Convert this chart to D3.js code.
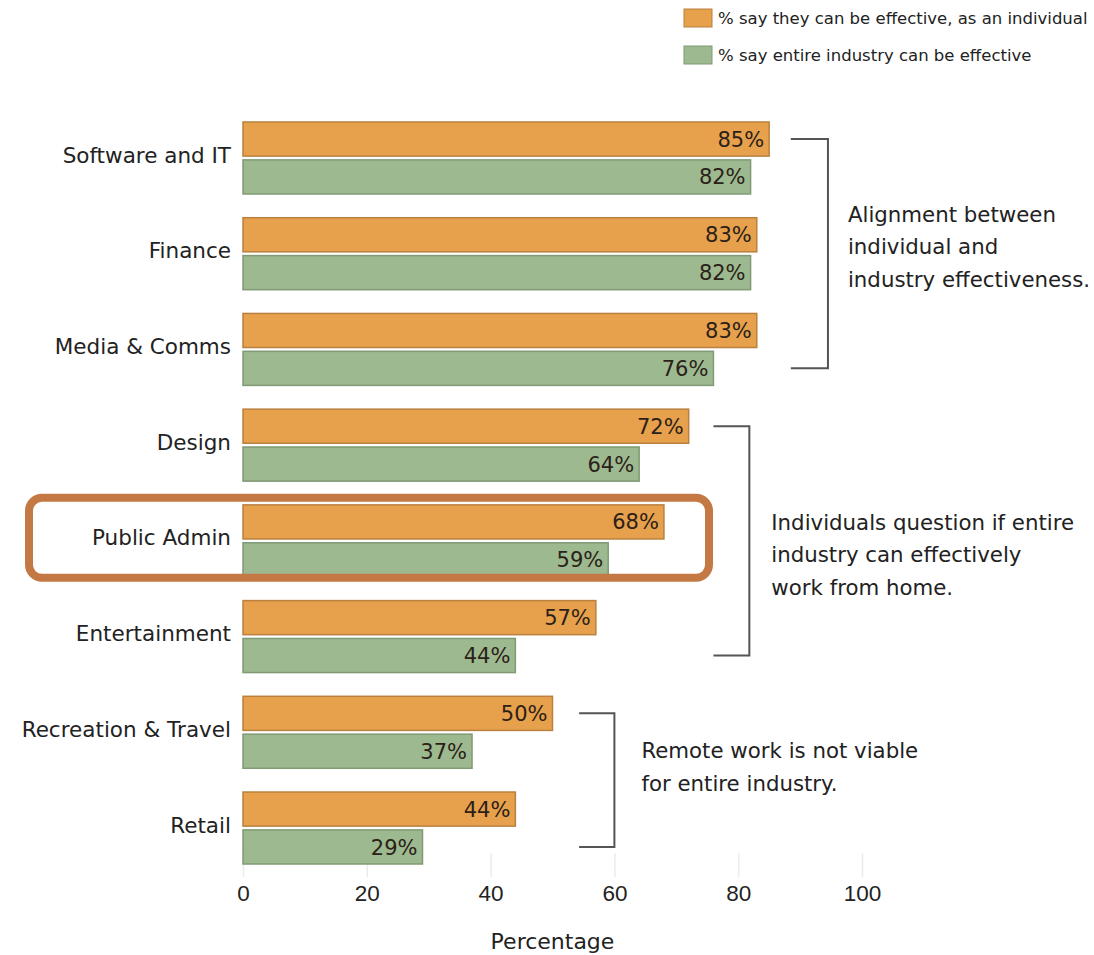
<!DOCTYPE html>
<html lang="en">
<head>
    <meta charset="UTF-8">
    <title>Remote work effectiveness by industry</title>
    <style>
        body {
            margin: 0;
            background: #fff;
            font-family: 'DejaVu Sans', 'Open Sans', sans-serif;
        }
        .cat { font-size: 21.5px; fill: #222; }
        .val { font-size: 21px; fill: #2b2118; }
        .note { font-size: 21.3px; fill: #222; }
        .legend text { font-size: 16.5px; fill: #222; }
        .axis text { font-size: 22.5px; fill: #222; }
    </style>
    <script src="https://d3js.org/d3.v7.min.js"></script>
</head>
<body>
<div id="chart"></div>
<script>
    // data
    var categories = ["Software and IT", "Finance", "Media & Comms", "Design",
                      "Public Admin", "Entertainment", "Recreation & Travel", "Retail"];
    var individual = [85, 83, 83, 72, 68, 57, 50, 44];
    var industry   = [82, 82, 76, 64, 59, 44, 37, 29];
    var tickValues = [0, 20, 40, 60, 80, 100];
    var seriesNames = ["% say they can be effective, as an individual",
                       "% say entire industry can be effective"];
    var highlighted = "Public Admin";

    // bracket groups: first / last category, bracket span (in %), annotation text
    var groups = [
        { first: "Software and IT", last: "Media & Comms", start: 88.5, end: 94.5,
          text: ["Alignment between", "individual and", "industry effectiveness."] },
        { first: "Design", last: "Entertainment", start: 76, end: 81.8,
          text: ["Individuals question if entire", "industry can effectively", "work from home."] },
        { first: "Recreation & Travel", last: "Retail", start: 54.3, end: 60,
          text: ["Remote work is not viable", "for entire industry."] }
    ];
    // nudges for the note text (px) so it sits like the original
    var noteGap = [20, 22, 27];
    var noteShift = [-7, 14, -13];

    var width = 1094, height = 955;
    var colors = ["#E7A04B", "#9DB98F"];
    var strokes = ["#b9803f", "#7f9a74"];

    var svg = d3.select("#chart").append("svg")
        .attr("width", width)
        .attr("height", height);

    var x = d3.scaleLinear().domain([0, 100]).range([243, 862]);

    var y = d3.scaleBand()
        .domain(categories)
        .range([122, 864])
        .paddingInner(0.248);

    var ySub = d3.scaleBand()
        .domain([0, 1])
        .range([0, y.bandwidth()])
        .paddingInner(0.1);

    // faint tick lines + axis labels
    var axis = d3.axisBottom(x).tickValues(tickValues).tickSize(24);
    var gAxis = svg.append("g")
        .attr("class", "axis")
        .attr("transform", "translate(0,853)")
        .call(axis);
    gAxis.select(".domain").remove();
    gAxis.selectAll(".tick line").attr("stroke", "#ebebeb").attr("stroke-width", 1.5);
    gAxis.selectAll(".tick text").attr("y", 40).attr("dy", "0.35em");

    svg.append("text")
        .attr("x", x(50))
        .attr("y", 941)
        .attr("dy", "0.35em")
        .attr("text-anchor", "middle")
        .style("font-size", "22px")
        .style("fill", "#222")
        .text("Percentage");

    // bars
    var rows = categories.map(function(c, i) {
        return { cat: c, vals: [individual[i], industry[i]] };
    });

    var row = svg.selectAll("g.row")
        .data(rows)
        .enter()
        .append("g")
        .attr("class", "row")
        .attr("transform", function(d) { return "translate(0," + y(d.cat) + ")"; });

    row.append("text")
        .attr("class", "cat")
        .attr("x", 231)
        .attr("y", y.bandwidth() / 2 - 3)
        .attr("dy", "0.35em")
        .attr("text-anchor", "end")
        .text(function(d) { return d.cat; });

    var bar = row.selectAll("g.bar")
        .data(function(d) { return d.vals.map(function(v, s) { return { v: v, s: s }; }); })
        .enter()
        .append("g")
        .attr("class", "bar");

    bar.append("rect")
        .attr("x", x(0))
        .attr("y", function(d) { return ySub(d.s); })
        .attr("width", function(d) { return x(d.v) - x(0); })
        .attr("height", ySub.bandwidth())
        .attr("fill", function(d) { return colors[d.s]; })
        .attr("stroke", function(d) { return strokes[d.s]; })
        .attr("stroke-width", 1.5);

    bar.append("text")
        .attr("class", "val")
        .attr("x", function(d) { return x(d.v) - 5; })
        .attr("y", function(d) { return ySub(d.s) + ySub.bandwidth() / 2; })
        .attr("dy", "0.36em")
        .attr("text-anchor", "end")
        .text(function(d) { return d.v + "%"; });

    // highlight box
    svg.append("rect")
        .attr("x", 29)
        .attr("y", y(highlighted) - 7)
        .attr("width", 680)
        .attr("height", y.bandwidth() + 8)
        .attr("rx", 13)
        .attr("fill", "none")
        .attr("stroke", "#C47944")
        .attr("stroke-width", 8);

    // brackets + notes
    groups.forEach(function(g, k) {
        var yTop = y(g.first) + ySub(0) + ySub.bandwidth() / 2;
        var yBot = y(g.last) + ySub(1) + ySub.bandwidth() / 2;
        svg.append("path")
            .attr("d", "M" + x(g.start) + "," + yTop + "H" + x(g.end) + "V" + yBot + "H" + x(g.start))
            .attr("fill", "none")
            .attr("stroke", "#555")
            .attr("stroke-width", 2);

        var mid = (yTop + yBot) / 2 + noteShift[k];
        var n = g.text.length;
        svg.selectAll(null)
            .data(g.text)
            .enter()
            .append("text")
            .attr("class", "note")
            .attr("x", x(g.end) + noteGap[k])
            .attr("y", function(d, i) { return mid + (i - (n - 1) / 2) * 32.5; })
            .attr("dy", "0.35em")
            .text(function(d) { return d; });
    });

    // legend
    var legend = svg.append("g").attr("class", "legend");
    seriesNames.forEach(function(name, i) {
        legend.append("rect")
            .attr("x", 684)
            .attr("y", 9 + i * 37)
            .attr("width", 28)
            .attr("height", 18)
            .attr("fill", colors[i])
            .attr("stroke", strokes[i]);
        legend.append("text")
            .attr("x", 718)
            .attr("y", 18 + i * 37)
            .attr("dy", "0.35em")
            .text(name);
    });
</script>
</body>
</html>
